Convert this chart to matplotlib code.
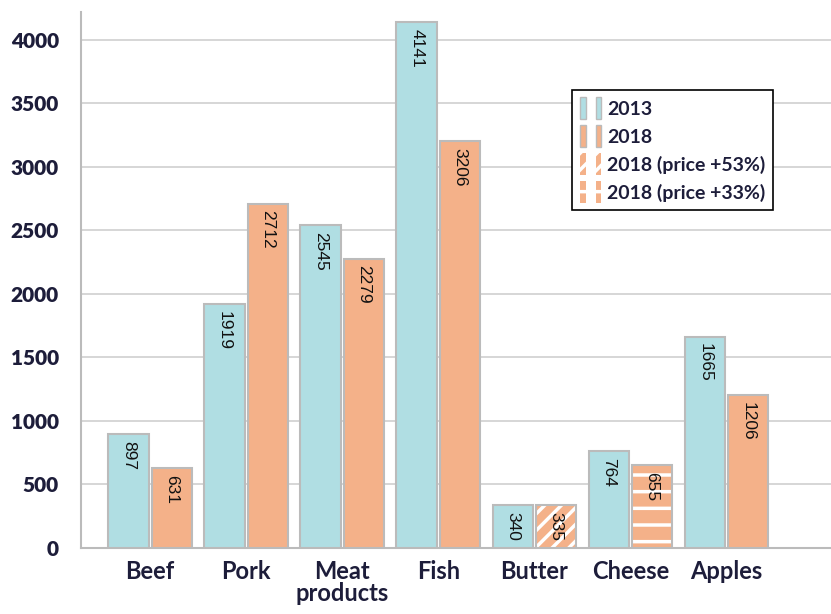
import numpy as np
import matplotlib
matplotlib.use("Agg")
import matplotlib.pyplot as plt
from matplotlib.patches import Patch
from matplotlib.legend_handler import HandlerTuple

categories = ["Beef", "Pork", "Meat\nproducts", "Fish", "Butter", "Cheese", "Apples"]
values_2013 = [897, 1919, 2545, 4141, 340, 764, 1665]
values_2018 = [631, 2712, 2279, 3206, 335, 655, 1206]
# hatch used for the 2018 bar of each category ('' = plain)
hatches_2018 = ["", "", "", "", "//", "-", ""]

blue = "#b0dee3"
orange = "#f4b189"
edge = "#bbbbbb"
navy = "#1d1d3a"

plt.rcParams["hatch.linewidth"] = 2.5
plt.rcParams["font.family"] = ["Lato", "DejaVu Sans"]

fig = plt.figure(figsize=(8.31, 6.14), dpi=100)
ax = fig.add_axes([0.0975, 0.1075, 0.9025, 0.873])

x = np.arange(len(categories))
w = 0.42
off = 0.225

ax.bar(x - off, values_2013, w, color=blue, edgecolor=edge, linewidth=1.5, zorder=3)
for xi, v, h in zip(x + off, values_2018, hatches_2018):
    ax.bar(xi, v, w, color=orange, edgecolor="white", hatch=h, linewidth=0, zorder=3)
    ax.bar(xi, v, w, fill=False, edgecolor=edge, linewidth=1.5, zorder=4)

for xs, vals in ((x - off, values_2013), (x + off, values_2018)):
    for xi, v in zip(xs, vals):
        ax.annotate(str(v), (xi, v), xytext=(0, -5), textcoords="offset points",
                    rotation=-90, ha="center", va="top", fontsize=12.5,
                    family=["Liberation Sans"], color="#111111", zorder=5)

ax.set_xlim(-0.72, 7.09)
ax.set_ylim(0, 4220)
ax.set_yticks(range(0, 4001, 500))
ax.yaxis.grid(True, color="#d3d3d3", linewidth=1.3, zorder=0)
ax.set_axisbelow(True)
for s in ("top", "right"):
    ax.spines[s].set_visible(False)
ax.spines["left"].set_color("#bbbbbb")
ax.spines["bottom"].set_color("#bbbbbb")
ax.spines["left"].set_linewidth(1.5)
ax.spines["bottom"].set_linewidth(1.5)
ax.tick_params(axis="y", length=0, pad=16, labelsize=15, labelcolor=navy)
ax.tick_params(axis="x", length=0, pad=9, labelsize=17, labelcolor=navy)
for lab in ax.get_yticklabels():
    lab.set_fontweight("heavy")
ax.set_xticks(x)
ax.set_xticklabels(categories, linespacing=0.9)
for lab in ax.get_xticklabels():
    lab.set_fontweight("bold")

def twin(color, hatch=None):
    if hatch:
        return tuple(Patch(facecolor=color, edgecolor="white", hatch=hatch, linewidth=0)
                     for _ in range(2))
    return tuple(Patch(facecolor=color, edgecolor=edge) for _ in range(2))

handles = [twin(blue), twin(orange), twin(orange, "//"), twin(orange, "-")]
labels = ["2013", "2018", "2018 (price +53%)", "2018 (price +33%)"]
leg = ax.legend(handles, labels, handler_map={tuple: HandlerTuple(ndivide=None, pad=0.5)},
                loc="upper left", bbox_to_anchor=(0.655, 0.855), fancybox=False,
                edgecolor="black", framealpha=1, handlelength=1.1, handleheight=1.3,
                handletextpad=0.3, labelspacing=0.35, borderpad=0.4, borderaxespad=0,
                prop={"size": 14, "weight": "bold"})
leg.get_frame().set_linewidth(1.2)
for t in leg.get_texts():
    t.set_color(navy)

fig.savefig("out.png", dpi=100)
